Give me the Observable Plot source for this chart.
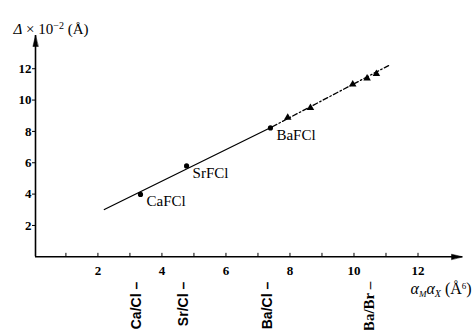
<!DOCTYPE html>
<html><head><meta charset="utf-8">
<script src="https://cdn.jsdelivr.net/npm/d3@7"></script>
<script src="https://cdn.jsdelivr.net/npm/@observablehq/plot@0.6"></script>
<style>body{margin:0;background:#fff}</style>
</head><body><div id="chart"></div>
<script>
// ---- data ----
const compounds = ["CaFCl", "SrFCl", "BaFCl"];
const compoundX = [3.33, 4.77, 7.39];
const compoundY = [3.98, 5.80, 8.22];
const triangleX = [7.93, 8.64, 9.96, 10.41, 10.70];
const triangleY = [8.88, 9.50, 11.0, 11.38, 11.68];
const solidX = [2.20, 7.45];
const solidY = [3.02, 8.30];
const dashX = [7.45, 11.08];
const dashY = [8.30, 12.20];
const pairLabels = ["Ca/Cl –", "Sr/Cl –", "Ba/Cl –", "Ba/Br –"];
const pairX = [3.36, 4.80, 7.44, 10.62];
const xMinorTicks = [1, 2, 3, 4, 5, 6, 7, 8, 9, 10, 11, 12];
const xTickLabels = [2, 4, 6, 8, 10, 12];
const yTickLabels = [2, 4, 6, 8, 10, 12];
const xDomain = [0.05, 13.39];
const yDomain = [0, 14.12];
const yTitle = "Δ × 10−2 (Å)";
const xTitle = "αMαX (Å6)";

const pts = compounds.map((c, i) => ({c, x: compoundX[i], y: compoundY[i]}));
const tris = triangleX.map((x, i) => ({x, y: triangleY[i]}));
const solid = solidX.map((x, i) => ({x, y: solidY[i]}));
const dashed = dashX.map((x, i) => ({x, y: dashY[i]}));
const pairs = pairLabels.map((t, i) => ({t, x: pairX[i]}));

const head = {draw(ctx, l) { ctx.moveTo(0, -l); ctx.lineTo(-2.6, 0); ctx.lineTo(2.6, 0); ctx.closePath(); }};
const serif = "'Liberation Serif', 'Times New Roman', serif";
const sans = "'Liberation Sans', Arial, sans-serif";

const chart = Plot.plot({
  width: 475, height: 330,
  marginLeft: 35, marginRight: 13, marginTop: 35, marginBottom: 73.7,
  x: {domain: xDomain, axis: null},
  y: {domain: yDomain, axis: null},
  style: {fontFamily: serif, background: "white", color: "black", overflow: "visible"},
  marks: [
    Plot.ruleY([0], {strokeWidth: 1.6}),
    Plot.ruleX([xDomain[0]], {strokeWidth: 1.6}),
    Plot.vector([0], {x: xDomain[0], y: yDomain[1], length: 11, rotate: 0, anchor: "start",
      shape: head, fill: "black", stroke: "black", strokeWidth: 0.5, dy: 11}),
    Plot.vector([0], {x: xDomain[1], y: 0, length: 11, rotate: 90, anchor: "start",
      shape: head, fill: "black", stroke: "black", strokeWidth: 0.5, dx: -11}),
    Plot.ruleX(xMinorTicks, {x: d => d, y1: 0, y2: 0.22, strokeWidth: 1}),
    Plot.axisY({ticks: yTickLabels, anchor: "left", tickSize: 3, tickPadding: 1, fontSize: 13, fontWeight: "bold", label: null}),
    Plot.axisX({ticks: xTickLabels, anchor: "bottom", tickSize: 0, tickPadding: 9, fontSize: 13, fontWeight: "bold", label: null}),
    Plot.line(solid, {x: "x", y: "y", strokeWidth: 1.3}),
    Plot.line(dashed, {x: "x", y: "y", strokeWidth: 1.3, strokeDasharray: "5,2.5,1.5,2.5"}),
    Plot.dot(pts, {x: "x", y: "y", r: 2.6, fill: "black"}),
    Plot.dot(tris, {x: "x", y: "y", symbol: "triangle", r: 2.8, fill: "black"}),
    Plot.text(pts, {x: "x", y: "y", text: "c", textAnchor: "start", dx: 6, dy: 7, fontSize: 15}),
    Plot.text(pairs.slice(0, 3), {x: "x", frameAnchor: "bottom", text: "t", rotate: -90, textAnchor: "end",
      dy: 25, fontSize: 14, fontWeight: "bold", fontFamily: sans}),
    Plot.text(pairs.slice(3), {x: "x", frameAnchor: "bottom", text: "t", rotate: -90, textAnchor: "end",
      dy: 25, fontSize: 15, fontWeight: "bold", fontFamily: serif}),
    Plot.text([yTitle], {frameAnchor: "top-left", text: d => d, textAnchor: "start", dx: -22, dy: -12, fontSize: 15}),
    Plot.text([xTitle], {frameAnchor: "bottom-right", text: d => d, textAnchor: "start", dx: -52, dy: 37, fontSize: 16})
  ]
});
document.getElementById("chart").appendChild(chart);

// rich text (sub/superscripts) for the axis titles
function rich(label, parts) {
  d3.select(chart).selectAll("text").filter(function() { return this.textContent === label; })
    .each(function() {
      const t = d3.select(this);
      t.text(null);
      for (const p of parts) {
        const s = t.append("tspan").text(p.t);
        if (p.i) s.attr("font-style", "italic");
        if (p.s) s.attr("font-size", p.s);
        if (p.dy) s.attr("dy", p.dy);
      }
    });
}
rich(yTitle, [{t: "Δ", i: true}, {t: " × 10"}, {t: "−2", s: 10, dy: -5}, {t: " (Å)", dy: 5}]);
rich(xTitle, [{t: "α", i: true}, {t: "M", i: true, s: 9, dy: 3}, {t: "α", i: true, dy: -3},
  {t: "X", i: true, s: 10, dy: 3}, {t: " (Å", dy: -3}, {t: "6", s: 9, dy: -5}, {t: ")", dy: 5}]);
</script>
</body></html>
